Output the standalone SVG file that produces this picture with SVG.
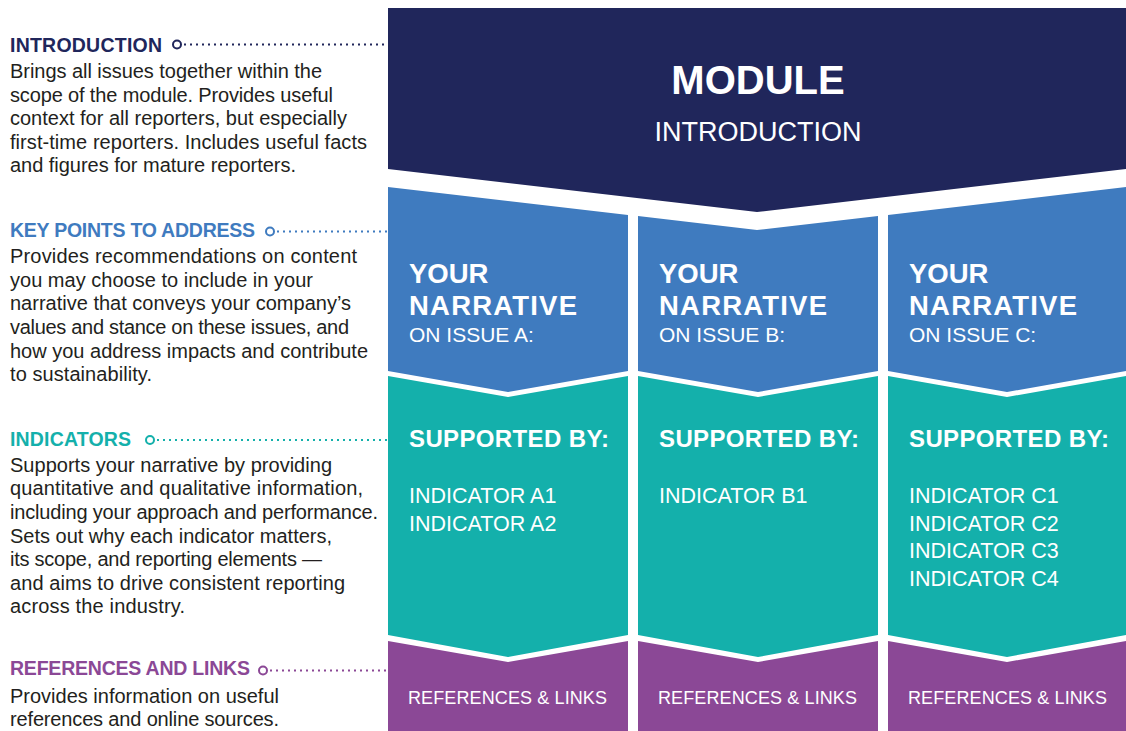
<svg xmlns="http://www.w3.org/2000/svg" width="1126" height="731" viewBox="0 0 1126 731">
<style>
text{font-family:"Liberation Sans",Arial,sans-serif}
.h{font-size:19.5px;font-weight:bold}
.b{font-size:20px;fill:#231f20}
.w{fill:#ffffff}
.t1{font-size:40px;font-weight:bold}
.t2{font-size:27px}
.yn{font-size:27.5px;font-weight:bold}
.iss{font-size:21px}
.sup{font-size:24px;font-weight:bold}
.ind{font-size:21.5px}
.ref{font-size:18px}
.navy{fill:#20265b}
.blue{fill:#3f7bbf}
.teal{fill:#14b0ab}
.purple{fill:#8b4896}
.dot{fill:none;stroke-width:1.8;stroke-dasharray:2 4}
.ring{fill:#ffffff;stroke-width:2}
</style>
<rect width="1126" height="731" fill="#ffffff"/>

<g id="module">
<polygon class="navy" points="388,8 1126,8 1126,169 757,212 388,169"/>
<text class="w t1" x="758" y="94" text-anchor="middle">MODULE</text>
<text class="w t2" x="758" y="141" text-anchor="middle">INTRODUCTION</text>
</g>

<g id="narrative-a">
<polygon class="blue" points="388,187 628,215 628,371 508,392 388,371"/>
<text class="w yn" x="409" y="283">YOUR</text>
<text class="w yn" x="409" y="315" textLength="168">NARRATIVE</text>
<text class="w iss" x="409" y="342">ON ISSUE A:</text>
</g>
<g id="narrative-b">
<polygon class="blue" points="638,216 757,230 878,216 878,371 758,392 638,371"/>
<text class="w yn" x="659" y="283">YOUR</text>
<text class="w yn" x="659" y="315" textLength="168">NARRATIVE</text>
<text class="w iss" x="659" y="342">ON ISSUE B:</text>
</g>
<g id="narrative-c">
<polygon class="blue" points="888,215 1126,187 1126,371 1007,392 888,371"/>
<text class="w yn" x="909" y="283">YOUR</text>
<text class="w yn" x="909" y="315" textLength="168">NARRATIVE</text>
<text class="w iss" x="909" y="342">ON ISSUE C:</text>
</g>

<g id="indicators-a">
<polygon class="teal" points="388,376 508,397 628,376 628,635 508,657 388,635"/>
<text class="w sup" x="409" y="447" textLength="200">SUPPORTED BY:</text>
<text class="w ind" x="409" y="503">INDICATOR A1</text>
<text class="w ind" x="409" y="531">INDICATOR A2</text>
</g>
<g id="indicators-b">
<polygon class="teal" points="638,376 758,397 878,376 878,635 758,657 638,635"/>
<text class="w sup" x="659" y="447" textLength="200">SUPPORTED BY:</text>
<text class="w ind" x="659" y="503">INDICATOR B1</text>
</g>
<g id="indicators-c">
<polygon class="teal" points="888,376 1007,397 1126,376 1126,635 1007,657 888,635"/>
<text class="w sup" x="909" y="447" textLength="200">SUPPORTED BY:</text>
<text class="w ind" x="909" y="503">INDICATOR C1</text>
<text class="w ind" x="909" y="531">INDICATOR C2</text>
<text class="w ind" x="909" y="558">INDICATOR C3</text>
<text class="w ind" x="909" y="586">INDICATOR C4</text>
</g>

<g id="refs-a">
<polygon class="purple" points="388,641 508,662 628,641 628,731 388,731"/>
<text class="w ref" x="408" y="704" textLength="199">REFERENCES &amp; LINKS</text>
</g>
<g id="refs-b">
<polygon class="purple" points="638,641 758,662 878,641 878,731 638,731"/>
<text class="w ref" x="658" y="704" textLength="199">REFERENCES &amp; LINKS</text>
</g>
<g id="refs-c">
<polygon class="purple" points="888,641 1007,662 1126,641 1126,731 888,731"/>
<text class="w ref" x="908" y="704" textLength="199">REFERENCES &amp; LINKS</text>
</g>

<g id="legend-introduction">
<text class="h navy" x="10" y="52" textLength="152">INTRODUCTION</text>
<text class="b" x="10" y="78" textLength="312">Brings all issues together within the</text>
<text class="b" x="10" y="101.5" textLength="323">scope of the module. Provides useful</text>
<text class="b" x="10" y="125" textLength="337">context for all reporters, but especially</text>
<text class="b" x="10" y="148.5" textLength="357">first-time reporters. Includes useful facts</text>
<text class="b" x="10" y="172" textLength="286">and figures for mature reporters.</text>
</g>
<g id="legend-key-points">
<text class="h blue" x="10" y="237" textLength="245">KEY POINTS TO ADDRESS</text>
<text class="b" x="10" y="263" textLength="347">Provides recommendations on content</text>
<text class="b" x="10" y="286.7" textLength="303">you may choose to include in your</text>
<text class="b" x="10" y="310.3" textLength="341">narrative that conveys your company’s</text>
<text class="b" x="10" y="334" textLength="339">values and stance on these issues, and</text>
<text class="b" x="10" y="357.7" textLength="358">how you address impacts and contribute</text>
<text class="b" x="10" y="381.4" textLength="142">to sustainability.</text>
</g>
<g id="legend-indicators">
<text class="h teal" x="10" y="446" textLength="121">INDICATORS</text>
<text class="b" x="10" y="471.7" textLength="322">Supports your narrative by providing</text>
<text class="b" x="10" y="495.3" textLength="353">quantitative and qualitative information,</text>
<text class="b" x="10" y="518.9" textLength="368">including your approach and performance.</text>
<text class="b" x="10" y="542.5" textLength="322">Sets out why each indicator matters,</text>
<text class="b" x="10" y="566.1" textLength="312">its scope, and reporting elements —</text>
<text class="b" x="10" y="589.7" textLength="335">and aims to drive consistent reporting</text>
<text class="b" x="10" y="613.3" textLength="175">across the industry.</text>
</g>
<g id="legend-references">
<text class="h purple" x="10" y="675" textLength="240">REFERENCES AND LINKS</text>
<text class="b" x="10" y="703" textLength="269">Provides information on useful</text>
<text class="b" x="10" y="726" textLength="269">references and online sources.</text>
</g>

<g id="connectors">
<line class="dot" x1="184" y1="44.5" x2="388" y2="44.5" stroke="#20265b"/>
<circle class="ring" cx="177" cy="44.5" r="4" stroke="#20265b"/>
<line class="dot" x1="277" y1="231.5" x2="388" y2="231.5" stroke="#3f7bbf"/>
<circle class="ring" cx="270" cy="231.5" r="4" stroke="#3f7bbf"/>
<line class="dot" x1="157" y1="440" x2="388" y2="440" stroke="#14b0ab"/>
<circle class="ring" cx="150" cy="440" r="4" stroke="#14b0ab"/>
<line class="dot" x1="270" y1="670.5" x2="388" y2="670.5" stroke="#8b4896"/>
<circle class="ring" cx="263" cy="670.5" r="4" stroke="#8b4896"/>
</g>
</svg>
